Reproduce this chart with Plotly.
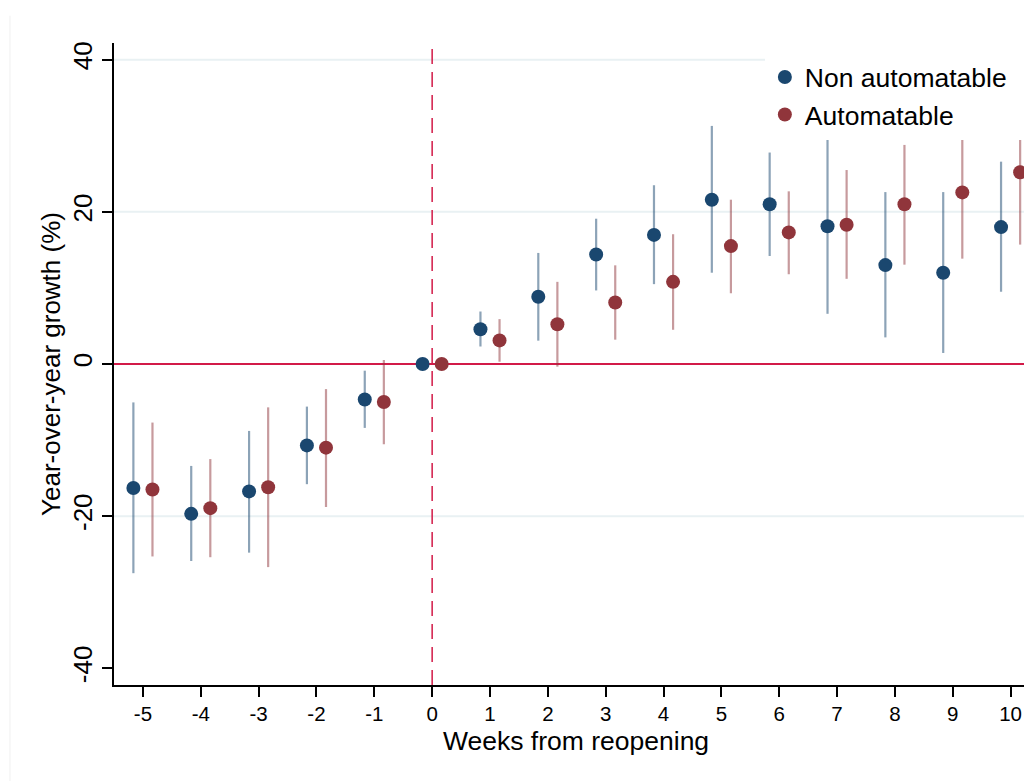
import plotly.graph_objects as go

# ---- data ----
weeks = [-5, -4, -3, -2, -1, 0, 1, 2, 3, 4, 5, 6, 7, 8, 9, 10]

na_coef = [-16.3, -19.7, -16.75, -10.7, -4.66, 0, 4.57, 8.84, 14.4, 16.97, 21.6, 21.0, 18.1, 13.0, 12.0, 18.0]
na_lo = [-27.5, -25.9, -24.8, -15.8, -8.4, 0, 2.3, 3.07, 9.67, 10.5, 12.0, 14.2, 6.6, 3.5, 1.45, 9.5]
na_hi = [-5.05, -13.4, -8.8, -5.6, -0.88, 0, 6.9, 14.6, 19.1, 23.5, 31.3, 27.8, 29.6, 22.6, 22.6, 26.6]

a_coef = [-16.5, -18.95, -16.2, -11.0, -5.0, 0, 3.1, 5.23, 8.09, 10.8, 15.5, 17.3, 18.3, 21.0, 22.56, 25.2]
a_lo = [-25.3, -25.4, -26.7, -18.8, -10.55, 0, 0.3, -0.35, 3.2, 4.5, 9.3, 11.8, 11.2, 13.06, 13.85, 15.7]
a_hi = [-7.7, -12.5, -5.7, -3.3, 0.53, 0, 5.9, 10.8, 12.97, 17.06, 21.6, 22.7, 25.5, 28.8, 31.3, 34.7]

x_ticks = list(range(-5, 11))
y_ticks = [-40, -20, 0, 20, 40]
grid_vals = [40, 20, -20]

series_names = ["Non automatable", "Automatable"]
x_title = "Weeks from reopening"
y_title = "Year-over-year growth (%)"
offset = 0.165

NAVY = "#1A476F"
MAROON = "#90353B"
NAVY_CI = "rgba(26,71,111,0.5)"
MAROON_CI = "rgba(144,53,59,0.5)"
RED = "#D21A48"
FONT = "Liberation Sans, Arial, sans-serif"

fig = go.Figure()


def add_series(coef, lo, hi, shift, name, color, ci_color, group):
    xs = [w + shift for w in weeks]
    fig.add_trace(go.Scatter(
        x=xs, y=coef, mode="markers", name=name,
        legendgroup=group,
        marker=dict(color=color, size=14, line=dict(width=0)),
        error_y=dict(type="data", symmetric=False,
                     array=[h - c for h, c in zip(hi, coef)],
                     arrayminus=[c - l for c, l in zip(coef, lo)],
                     color=ci_color, thickness=2.2, width=0),
    ))


add_series(na_coef, na_lo, na_hi, -offset, series_names[0], NAVY, NAVY_CI, "g1")
add_series(a_coef, a_lo, a_hi, offset, series_names[1], MAROON, MAROON_CI, "g2")

shapes = []
for g in grid_vals:
    shapes.append(dict(type="line", xref="paper", yref="y", x0=0, x1=1, y0=g, y1=g,
                       line=dict(color="#E9F1F3", width=2), layer="below"))
shapes.append(dict(type="line", xref="paper", yref="y", x0=0, x1=1, y0=0, y1=0,
                   line=dict(color=RED, width=2), layer="below"))
shapes.append(dict(type="line", xref="x", yref="paper", x0=0, x1=0, y0=0, y1=0.992,
                   line=dict(color=RED, width=1.5, dash="15px,8px"), layer="below"))
# faint outer frame line on the left (graph region border)
shapes.append(dict(type="line", xref="paper", yref="paper", x0=-0.1133, x1=-0.1133,
                   y0=-0.15, y1=1.0425, line=dict(color="#F0F0F0", width=1), layer="below"))
# white legend region box (the legend in the original is drawn on an opaque box reaching the edge)
shapes.append(dict(type="rect", xref="paper", yref="paper", x0=0.7115, x1=1.0, y0=0.849, y1=1.0,
                   fillcolor="white", line=dict(width=0), layer="above"))

# the page body adds an 8px offset, so the figure is 8px smaller on each axis
fig.update_layout(
    width=1024, height=773,
    margin=dict(l=106, r=0, t=35, b=96, autoexpand=False),
    paper_bgcolor="white", plot_bgcolor="white",
    font=dict(family=FONT, color="black"),
    shapes=shapes,
    showlegend=True,
    legend=dict(x=0.709, y=0.984, xanchor="left", yanchor="top",
                bgcolor="white", borderwidth=0,
                font=dict(size=26.5, family=FONT, color="black"),
                traceorder="grouped", tracegroupgap=0),
    annotations=[dict(text=x_title, xref="paper", yref="paper", x=0.5, y=-0.061,
                      xanchor="center", yanchor="top", xshift=3, showarrow=False,
                      font=dict(size=26.5, family=FONT, color="black"))],
    xaxis=dict(range=[-5.5, 10.37], tickmode="array", tickvals=x_ticks,
               ticktext=[str(t) for t in x_ticks],
               showgrid=False, zeroline=False, automargin=False,
               showline=True, linecolor="black", linewidth=1.5,
               ticks="outside", ticklen=10, tickwidth=1.5, tickcolor="black",
               tickfont=dict(size=20.5, family=FONT)),
    yaxis=dict(range=[-42.2, 42.2], tickmode="array", tickvals=y_ticks,
               ticktext=[str(t) for t in y_ticks],
               showgrid=False, zeroline=False, automargin=False,
               showline=True, linecolor="black", linewidth=1.5,
               ticks="outside", ticklen=10, tickwidth=1.5, tickcolor="black",
               tickangle=-90,
               tickfont=dict(size=26, family=FONT),
               title=dict(text=y_title, font=dict(size=26, family=FONT), standoff=0)),
)

fig.write_html("out.html")
